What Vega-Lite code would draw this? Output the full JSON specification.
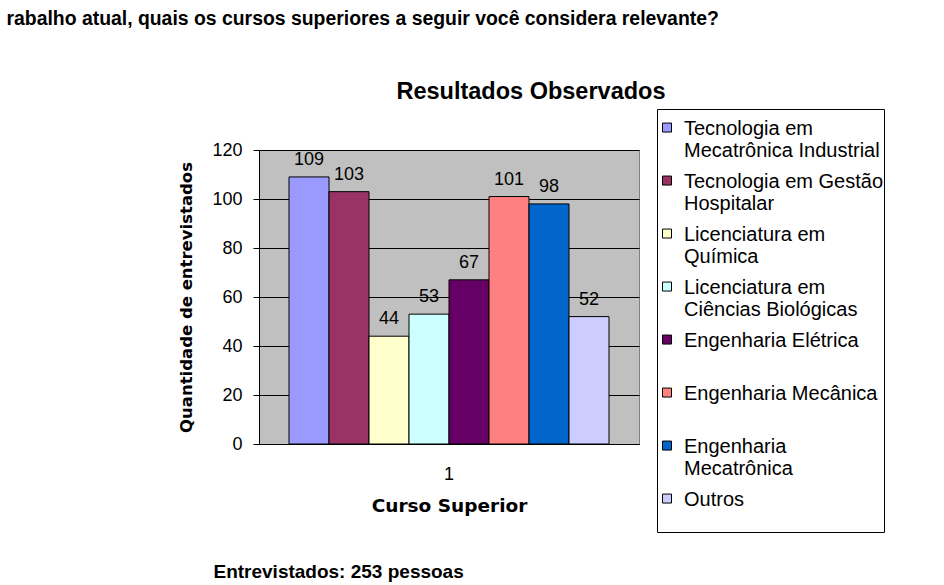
{
  "$schema": "https://vega.github.io/schema/vega-lite/v6.json",
  "background": "white",
  "padding": {"left": 6, "top": 8, "right": 5, "bottom": 0},
  "title": {
    "text": "rabalho atual, quais os cursos superiores a seguir você considera relevante?",
    "anchor": "start",
    "font": "Liberation Sans",
    "fontSize": 19.4,
    "fontWeight": "bold",
    "color": "black",
    "dx": -172,
    "offset": 50
  },
  "data": {
    "values": [
      {"grupo": "1", "curso": "Tecnologia em Mecatrônica Industrial", "quantidade": 109},
      {"grupo": "1", "curso": "Tecnologia em Gestão Hospitalar", "quantidade": 103},
      {"grupo": "1", "curso": "Licenciatura em Química", "quantidade": 44},
      {"grupo": "1", "curso": "Licenciatura em Ciências Biológicas", "quantidade": 53},
      {"grupo": "1", "curso": "Engenharia Elétrica", "quantidade": 67},
      {"grupo": "1", "curso": "Engenharia Mecânica", "quantidade": 101},
      {"grupo": "1", "curso": "Engenharia Mecatrônica", "quantidade": 98},
      {"grupo": "1", "curso": "Outros", "quantidade": 52}
    ]
  },
  "config": {
    "view": {"fill": "#C0C0C0", "stroke": "#808080", "strokeWidth": 1},
    "axis": {
      "labelFont": "Liberation Sans",
      "labelFontSize": 18,
      "labelColor": "black",
      "titleFont": "DejaVu Sans",
      "titleFontWeight": "bold",
      "titleFontSize": 18,
      "titleColor": "black",
      "domainColor": "black",
      "tickColor": "black",
      "gridColor": "black",
      "gridOpacity": 1
    }
  },
  "vconcat": [
    {
      "title": {
        "text": "Entrevistados: 253 pessoas",
        "orient": "bottom",
        "anchor": "start",
        "font": "Liberation Sans",
        "fontSize": 19,
        "fontWeight": "bold",
        "color": "black",
        "dx": 35,
        "offset": 48
      },
      "vconcat": [
        {
          "width": 380,
          "height": 294,
          "title": {
            "text": "Resultados Observados",
            "font": "Liberation Sans",
            "fontSize": 23.5,
            "fontWeight": "bold",
            "color": "black",
            "anchor": "middle",
            "frame": "bounds",
            "dx": 122,
            "offset": 38
          },
          "encoding": {
            "x": {
              "field": "grupo",
              "type": "nominal",
              "scale": {"paddingInner": 0, "paddingOuter": 0.09375},
              "axis": {
                "title": "Curso Superior",
                "titleFontSize": 18.5,
                "labelAngle": 0,
                "ticks": false,
                "labelPadding": 21,
                "titlePadding": 13
              }
            },
            "xOffset": {
              "field": "curso",
              "type": "nominal",
              "sort": null,
              "scale": {"paddingInner": 0, "paddingOuter": 0}
            },
            "y": {
              "field": "quantidade",
              "type": "quantitative",
              "scale": {"domain": [0, 120], "nice": false},
              "axis": {
                "title": "Quantidade de entrevistados",
                "titleFontSize": 16.5,
                "values": [0, 20, 40, 60, 80, 100, 120],
                "grid": true,
                "tickSize": 6,
                "labelPadding": 11,
                "titlePadding": 17
              }
            }
          },
          "layer": [
            {
              "mark": {"type": "bar", "stroke": "black", "strokeWidth": 1},
              "encoding": {
                "color": {
                  "field": "curso",
                  "type": "nominal",
                  "sort": null,
                  "scale": {
                    "range": ["#9999FF", "#993366", "#FFFFCC", "#CCFFFF", "#660066", "#FF8080", "#0066CC", "#CCCCFF"]
                  },
                  "legend": {
                    "title": null,
                    "orient": "none",
                    "legendX": 398,
                    "legendY": -41,
                    "strokeColor": "black",
                    "fillColor": "white",
                    "padding": 0,
                    "symbolType": "M -1 0.9 L 1 0.9 L 1 2.9 L -1 2.9 Z",
                    "symbolSize": 81,
                    "symbolStrokeColor": "black",
                    "symbolStrokeWidth": 1,
                    "symbolOpacity": 1,
                    "labelFont": "Liberation Sans",
                    "labelFontSize": 20,
                    "labelColor": "black",
                    "labelLimit": 400,
                    "labelOffset": 7,
                    "labelBaseline": "top",
                    "labelLineHeight": 23,
                    "rowPadding": 1,
                    "labelExpr": "datum.label == 'Tecnologia em Mecatrônica Industrial' ? ['Tecnologia em', 'Mecatrônica Industrial'] : datum.label == 'Tecnologia em Gestão Hospitalar' ? ['Tecnologia em Gestão', 'Hospitalar'] : datum.label == 'Licenciatura em Química' ? ['Licenciatura em', 'Química'] : datum.label == 'Licenciatura em Ciências Biológicas' ? ['Licenciatura em', 'Ciências Biológicas'] : datum.label == 'Engenharia Mecatrônica' ? ['Engenharia', 'Mecatrônica'] : [datum.label, '']"
                  }
                }
              }
            },
            {
              "mark": {
                "type": "text",
                "baseline": "alphabetic",
                "dy": -12,
                "font": "Liberation Sans",
                "fontSize": 18,
                "color": "black"
              },
              "encoding": {
                "text": {"field": "quantidade", "type": "quantitative"}
              }
            }
          ]
        }
      ]
    }
  ]
}
